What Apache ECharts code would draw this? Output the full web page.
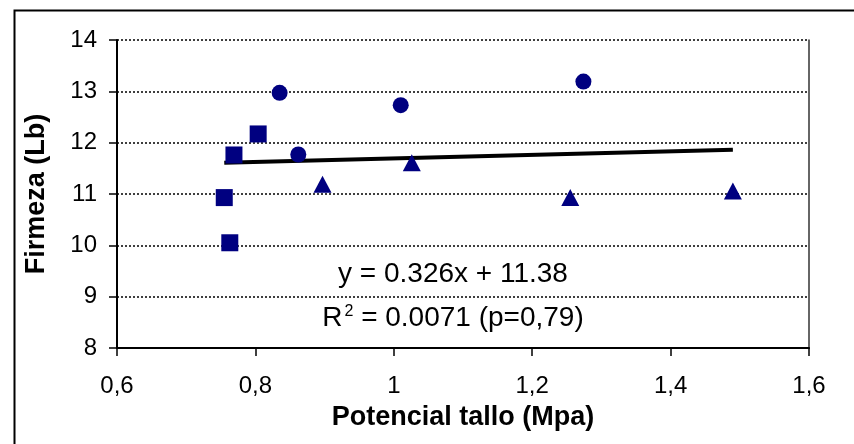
<!DOCTYPE html>
<html>
<head>
<meta charset="utf-8">
<script src="https://cdn.jsdelivr.net/npm/echarts@6/dist/echarts.min.js"></script>
<style>
  html, body { margin: 0; padding: 0; background: #fff; }
  #chart { width: 854px; height: 444px; }
</style>
</head>
<body>
<div id="chart"></div>
<script>
// puntos
let squareX = [0.755, 0.763, 0.769, 0.804];
let squareY = [10.93, 10.05, 11.76, 12.17];
let circleX = [0.835, 0.862, 1.010, 1.274];
let circleY = [12.97, 11.77, 12.73, 13.19];
let triangleX = [0.897, 1.026, 1.255, 1.490];
let triangleY = [11.19, 11.61, 10.93, 11.06];
// linea de tendencia (extremos)
let trendX = [0.755, 1.49];
let trendY = [11.61, 11.86];

let eqText = "y = 0.326x + 11.38";
let r2Text = " = 0.0071 (p=0,79)";

function pairs(xs, ys) {
  return xs.map(function (x, i) { return [x, ys[i]]; });
}

let markColor = "#000080";
let font = "Liberation Sans";
let chart = echarts.init(document.getElementById("chart"));

let option = {
  animation: false,
  backgroundColor: "#fff",
  textStyle: { fontFamily: font },
  grid: { left: 117, top: 40, right: 45, bottom: 96, containLabel: false },
  xAxis: {
    type: "value",
    min: 0.6,
    max: 1.6,
    interval: 0.2,
    name: "Potencial tallo (Mpa)",
    nameLocation: "middle",
    nameGap: 56,
    nameTextStyle: { fontSize: 27, fontWeight: "bold", color: "#000", fontFamily: font },
    axisLine: { lineStyle: { color: "#000", width: 2 } },
    axisTick: { show: true, inside: false, length: 8, lineStyle: { color: "#000", width: 1.5 } },
    axisLabel: {
      fontSize: 24, color: "#000", margin: 26,
      formatter: function (v) { return String(Math.round(v * 10) / 10).replace(".", ","); }
    },
    splitLine: { show: false }
  },
  yAxis: [{
    type: "value",
    min: 8,
    max: 14,
    interval: 1,
    name: "Firmeza (Lb)",
    nameLocation: "middle",
    nameGap: 67,
    nameTextStyle: { fontSize: 27, fontWeight: "bold", color: "#000", fontFamily: font },
    axisLine: { show: true, lineStyle: { color: "#000", width: 2 } },
    axisTick: { show: true, length: 8, lineStyle: { color: "#000", width: 1.5 } },
    axisLabel: { fontSize: 24, color: "#000", margin: 20 },
    splitLine: { show: true, lineStyle: { color: "#000", width: 1.5, type: [2, 2] } }
  }, {
    type: "value",
    position: "right",
    min: 8,
    max: 14,
    interval: 1,
    axisLine: { show: true, lineStyle: { color: "#333", width: 1.5 } },
    axisTick: { show: false },
    axisLabel: { show: false },
    splitLine: { show: false }
  }],
  graphic: [{
    type: "rect",
    left: 12,
    top: 8,
    shape: { width: 900, height: 500 },
    style: { fill: "none", stroke: "#000", lineWidth: 2 },
    silent: true
  }, {
    type: "text",
    x: 453,
    y: 274,
    style: {
      text: eqText, fontSize: 28, fill: "#000", fontFamily: font,
      align: "center", verticalAlign: "middle"
    }
  }, {
    type: "text",
    x: 453,
    y: 318,
    style: {
      text: "{r|R}{s|2}{r|" + r2Text + "}",
      align: "center",
      verticalAlign: "middle",
      rich: {
        r: { fontSize: 28, fill: "#000", fontFamily: font, verticalAlign: "bottom" },
        s: { fontSize: 16, fill: "#000", fontFamily: font, padding: [0, 0, 13, 2], verticalAlign: "bottom" }
      }
    }
  }],
  series: [{
    name: "tendencia",
    type: "line",
    data: pairs(trendX, trendY),
    showSymbol: false,
    symbol: "none",
    lineStyle: { color: "#000", width: 4 },
    z: 1
  }, {
    name: "cuadrados",
    type: "scatter",
    symbol: "rect",
    symbolSize: [17, 17],
    itemStyle: { color: markColor, opacity: 1 },
    data: pairs(squareX, squareY),
    z: 3
  }, {
    name: "circulos",
    type: "scatter",
    symbol: "circle",
    symbolSize: 16,
    itemStyle: { color: markColor, opacity: 1 },
    data: pairs(circleX, circleY),
    z: 3
  }, {
    name: "triangulos",
    type: "scatter",
    symbol: "triangle",
    symbolSize: [18, 17],
    itemStyle: { color: markColor, opacity: 1 },
    data: pairs(triangleX, triangleY),
    z: 3
  }]
};

chart.setOption(option, true);
</script>
</body>
</html>
